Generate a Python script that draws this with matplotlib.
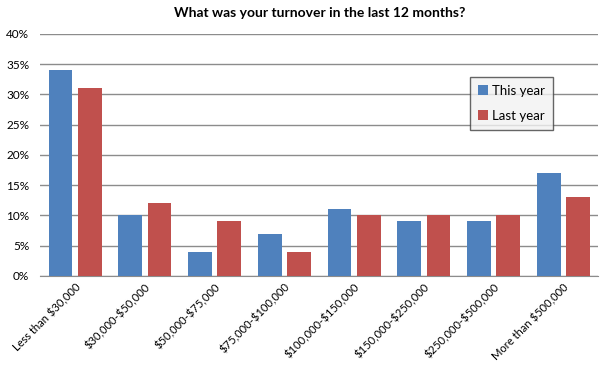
import numpy as np
import matplotlib
matplotlib.use("Agg")
import matplotlib.pyplot as plt
from matplotlib.ticker import PercentFormatter

plt.rcParams['font.family'] = ['Lato', 'DejaVu Sans']
plt.rcParams['text.parse_math'] = False

# Data
categories = ["Less than $30,000", "$30,000-$50,000", "$50,000-$75,000",
              "$75,000-$100,000", "$100,000-$150,000", "$150,000-$250,000",
              "$250,000-$500,000", "More than $500,000"]
this_year = [34, 10, 4, 7, 11, 9, 9, 17]
last_year = [31, 12, 9, 4, 10, 10, 10, 13]

fig = plt.figure(figsize=(6, 3.65), dpi=100)
ax = fig.add_axes([0.067, 0.244, 0.93, 0.663])

x = np.arange(len(categories))
w = 0.34
ax.bar(x - 0.21, this_year, w, color="#4F81BD", label="This year", zorder=3)
ax.bar(x + 0.21, last_year, w, color="#C0504D", label="Last year", zorder=3)

ax.set_xlim(-0.5, len(categories) - 0.5)
ax.set_ylim(0, 40)
ax.set_yticks(range(0, 41, 5))
ax.yaxis.set_major_formatter(PercentFormatter(decimals=0))
ax.grid(axis='y', color="#8c8c8c", linewidth=1, zorder=0)

for s in ['top', 'right', 'left']:
    ax.spines[s].set_visible(False)
ax.spines['bottom'].set_color("#8c8c8c")

ax.set_xticks(x)
ax.set_xticklabels(categories, rotation=45, ha='right', rotation_mode='anchor',
                   fontsize=8)
ax.tick_params(axis='x', length=0, pad=4)
ax.tick_params(axis='y', length=0, labelsize=8.5, pad=8)

ax.set_title("What was your turnover in the last 12 months?", fontsize=10,
             fontweight='bold', pad=12)

leg = ax.legend(loc='upper left', bbox_to_anchor=(0.758, 0.85), fontsize=9.5,
                frameon=True, fancybox=False, shadow=False, handlelength=0.8,
                handleheight=0.8, handletextpad=0.3, labelspacing=1.0,
                borderpad=0.6)
leg.get_frame().set_edgecolor("#404040")
leg.get_frame().set_facecolor("#f2f2f2")
leg.get_frame().set_linewidth(1)

fig.savefig("out.png", dpi=100)
